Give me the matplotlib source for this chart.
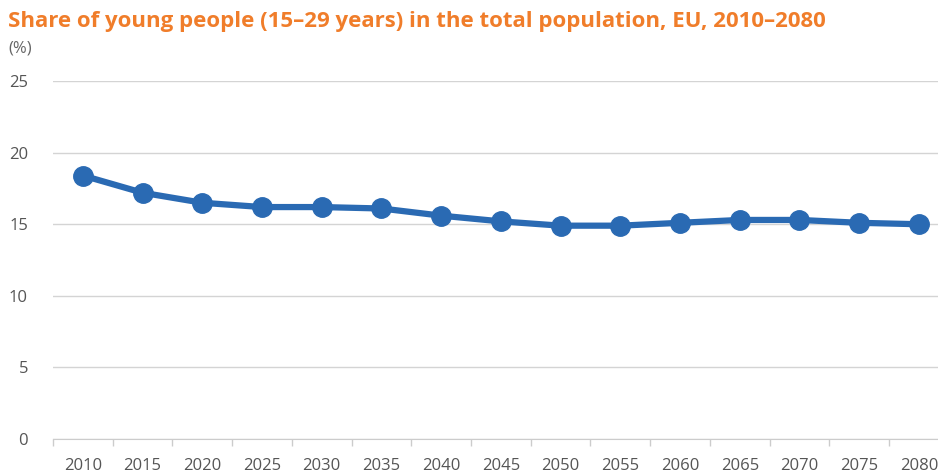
import numpy as np
import matplotlib.pyplot as plt

years = ['2010', '2015', '2020', '2025', '2030', '2035', '2040', '2045',
         '2050', '2055', '2060', '2065', '2070', '2075', '2080']
share = [18.4, 17.2, 16.5, 16.2, 16.2, 16.1, 15.6, 15.2,
         14.9, 14.9, 15.1, 15.3, 15.3, 15.1, 15.0]
y_ticks = [0, 5, 10, 15, 20, 25]

plt.rcParams['font.family'] = ['Open Sans', 'DejaVu Sans']

fig = plt.figure(figsize=(9.38, 4.76), dpi=100)
ax = fig.add_axes([0.0565, 0.0777, 0.955, 0.752])

x = np.arange(len(years))
ax.plot(x, share, color='#2A6AB3', linewidth=4.5, marker='o',
        markersize=14, zorder=3, clip_on=False)

ax.set_xlim(-0.5, len(years) - 0.5)
ax.set_ylim(0, 25)
ax.set_yticks(y_ticks)
ax.set_xticks(x)
ax.set_xticklabels(years)
ax.set_xticks(np.arange(len(years) + 1) - 0.5, minor=True)
ax.tick_params(axis='x', which='major', length=0, pad=14,
               labelsize=12, labelcolor='#555555')
ax.tick_params(axis='x', which='minor', length=5, color='#cccccc', width=1)
ax.tick_params(axis='y', length=0, pad=18, labelsize=12, labelcolor='#555555')

ax.grid(axis='y', color='#d4d4d4', linewidth=1)
ax.set_axisbelow(True)
for s in ['top', 'right', 'left']:
    ax.spines[s].set_visible(False)
ax.spines['bottom'].set_color('#cccccc')

fig.text(0.009, 0.955, 'Share of young people (15\u201329 years) in the total population, EU, 2010\u20132080',
         color='#F07D2A', fontsize=16, fontweight='bold', va='center', ha='left')
fig.text(0.009, 0.898, '(%)', color='#666666', fontsize=12, va='center', ha='left')

fig.savefig('out.png', dpi=100)
